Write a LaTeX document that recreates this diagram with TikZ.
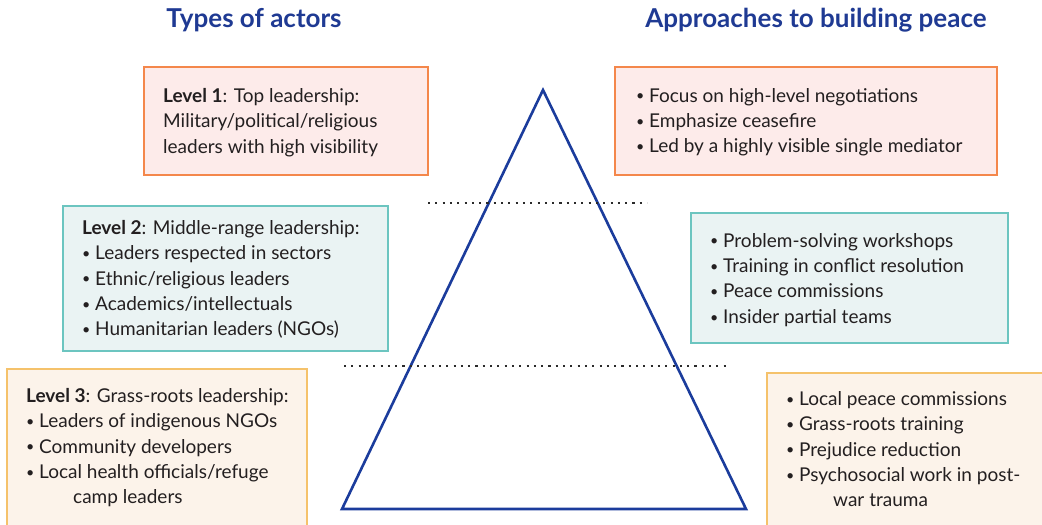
\documentclass[tikz,border=0pt]{standalone}
\usepackage{fontspec}
\setmainfont{Lato}
\definecolor{titleblue}{HTML}{1F3A93}
\definecolor{triblue}{HTML}{1B3C9C}
\definecolor{inktext}{HTML}{231F20}
\definecolor{pinkfill}{HTML}{FDEBEA}
\definecolor{pinkedge}{HTML}{F4874B}
\definecolor{tealfill}{HTML}{EAF3F3}
\definecolor{tealedge}{HTML}{6CC5C0}
\definecolor{sandfill}{HTML}{FCF3EA}
\definecolor{sandedge}{HTML}{F5C26B}
\definecolor{dotgray}{HTML}{2A2A2A}
% small list bullet followed by a fixed gap
\newcommand{\itm}{\makebox[13pt][l]{\raisebox{1.2pt}{\scalebox{0.75}{•}}}}
\begin{document}
\begin{tikzpicture}[x=1pt,y=-1pt,
  panel/.style={draw, line width=1.6pt, anchor=north west, inner sep=0pt},
  toplevel/.style={panel, fill=pinkfill, draw=pinkedge},
  midlevel/.style={panel, fill=tealfill, draw=tealedge},
  baselevel/.style={panel, fill=sandfill, draw=sandedge},
  txt/.style={anchor=north west, inner sep=0pt, align=left, text=inktext,
    font=\fontsize{19}{25.4}\selectfont},
  heading/.style={text=titleblue, font=\fontsize{26}{30}\selectfont\bfseries},
  sep/.style={draw=dotgray, line width=2.1pt, dash pattern=on 2.1pt off 5.2pt}
]
\useasboundingbox (0,0) rectangle (1042,525);

% column headings
\node[heading] (hleft) at (254,20) {Types of actors};
\node[heading] (hright) at (816,20) {Approaches to building peace};

% level panels
\node[toplevel, minimum width=284pt, minimum height=108pt] (l1box) at (143,66) {};
\node[toplevel, minimum width=382pt, minimum height=108pt] (r1box) at (614,66) {};
\node[midlevel, minimum width=325pt, minimum height=145pt] (l2box) at (62,205) {};
\node[midlevel, minimum width=317pt, minimum height=130pt] (r2box) at (690,212) {};
\node[baselevel, minimum width=300pt, minimum height=180pt] (l3box) at (6,368) {};
\node[baselevel, minimum width=290pt, minimum height=180pt] (r3box) at (766,372) {};

% panel texts
\node[txt] (l1text) at (163,88) {\textbf{Level 1}: Top leadership:\\
  Military/political/religious\\
  leaders with high visibility};
\node[txt] (r1text) at (636,88) {\itm Focus on high-level negotiations\\
  \itm Emphasize ceasefire\\
  \itm Led by a highly visible single mediator};
\node[txt] (l2text) at (82,220) {\textbf{Level 2}: Middle-range leadership:\\
  \itm Leaders respected in sectors\\
  \itm Ethnic/religious leaders\\
  \itm Academics/intellectuals\\
  \itm Humanitarian leaders (NGOs)};
\node[txt] (r2text) at (710,233) {\itm Problem-solving workshops\\
  \itm Training in conflict resolution\\
  \itm Peace commissions\\
  \itm Insider partial teams};
\node[txt] (l3text) at (26,388) {\textbf{Level 3}: Grass-roots leadership:\\
  \itm Leaders of indigenous NGOs\\
  \itm Community developers\\
  \itm Local health officials/refuge\\
  \hspace{47pt}camp leaders};
\node[txt] (r3text) at (786,391) {\itm Local peace commissions\\
  \itm Grass-roots training\\
  \itm Prejudice reduction\\
  \itm Psychosocial work in post-\\
  \hspace{47pt}war trauma};

% pyramid
\coordinate (apex) at (543,90);
\coordinate (baseL) at (342,509);
\coordinate (baseR) at (746,509);
\draw[triblue, line width=2.6pt, line join=miter] (apex) -- (baseL) -- (baseR) -- cycle;

% dotted level separators
\coordinate (s1a) at (428,203);
\coordinate (s1b) at (647,203);
\coordinate (s2a) at (344,366);
\coordinate (s2b) at (728,366);
\draw[sep] (s1a) -- (s1b);
\draw[sep] (s2a) -- (s2b);
\end{tikzpicture}
\end{document}
